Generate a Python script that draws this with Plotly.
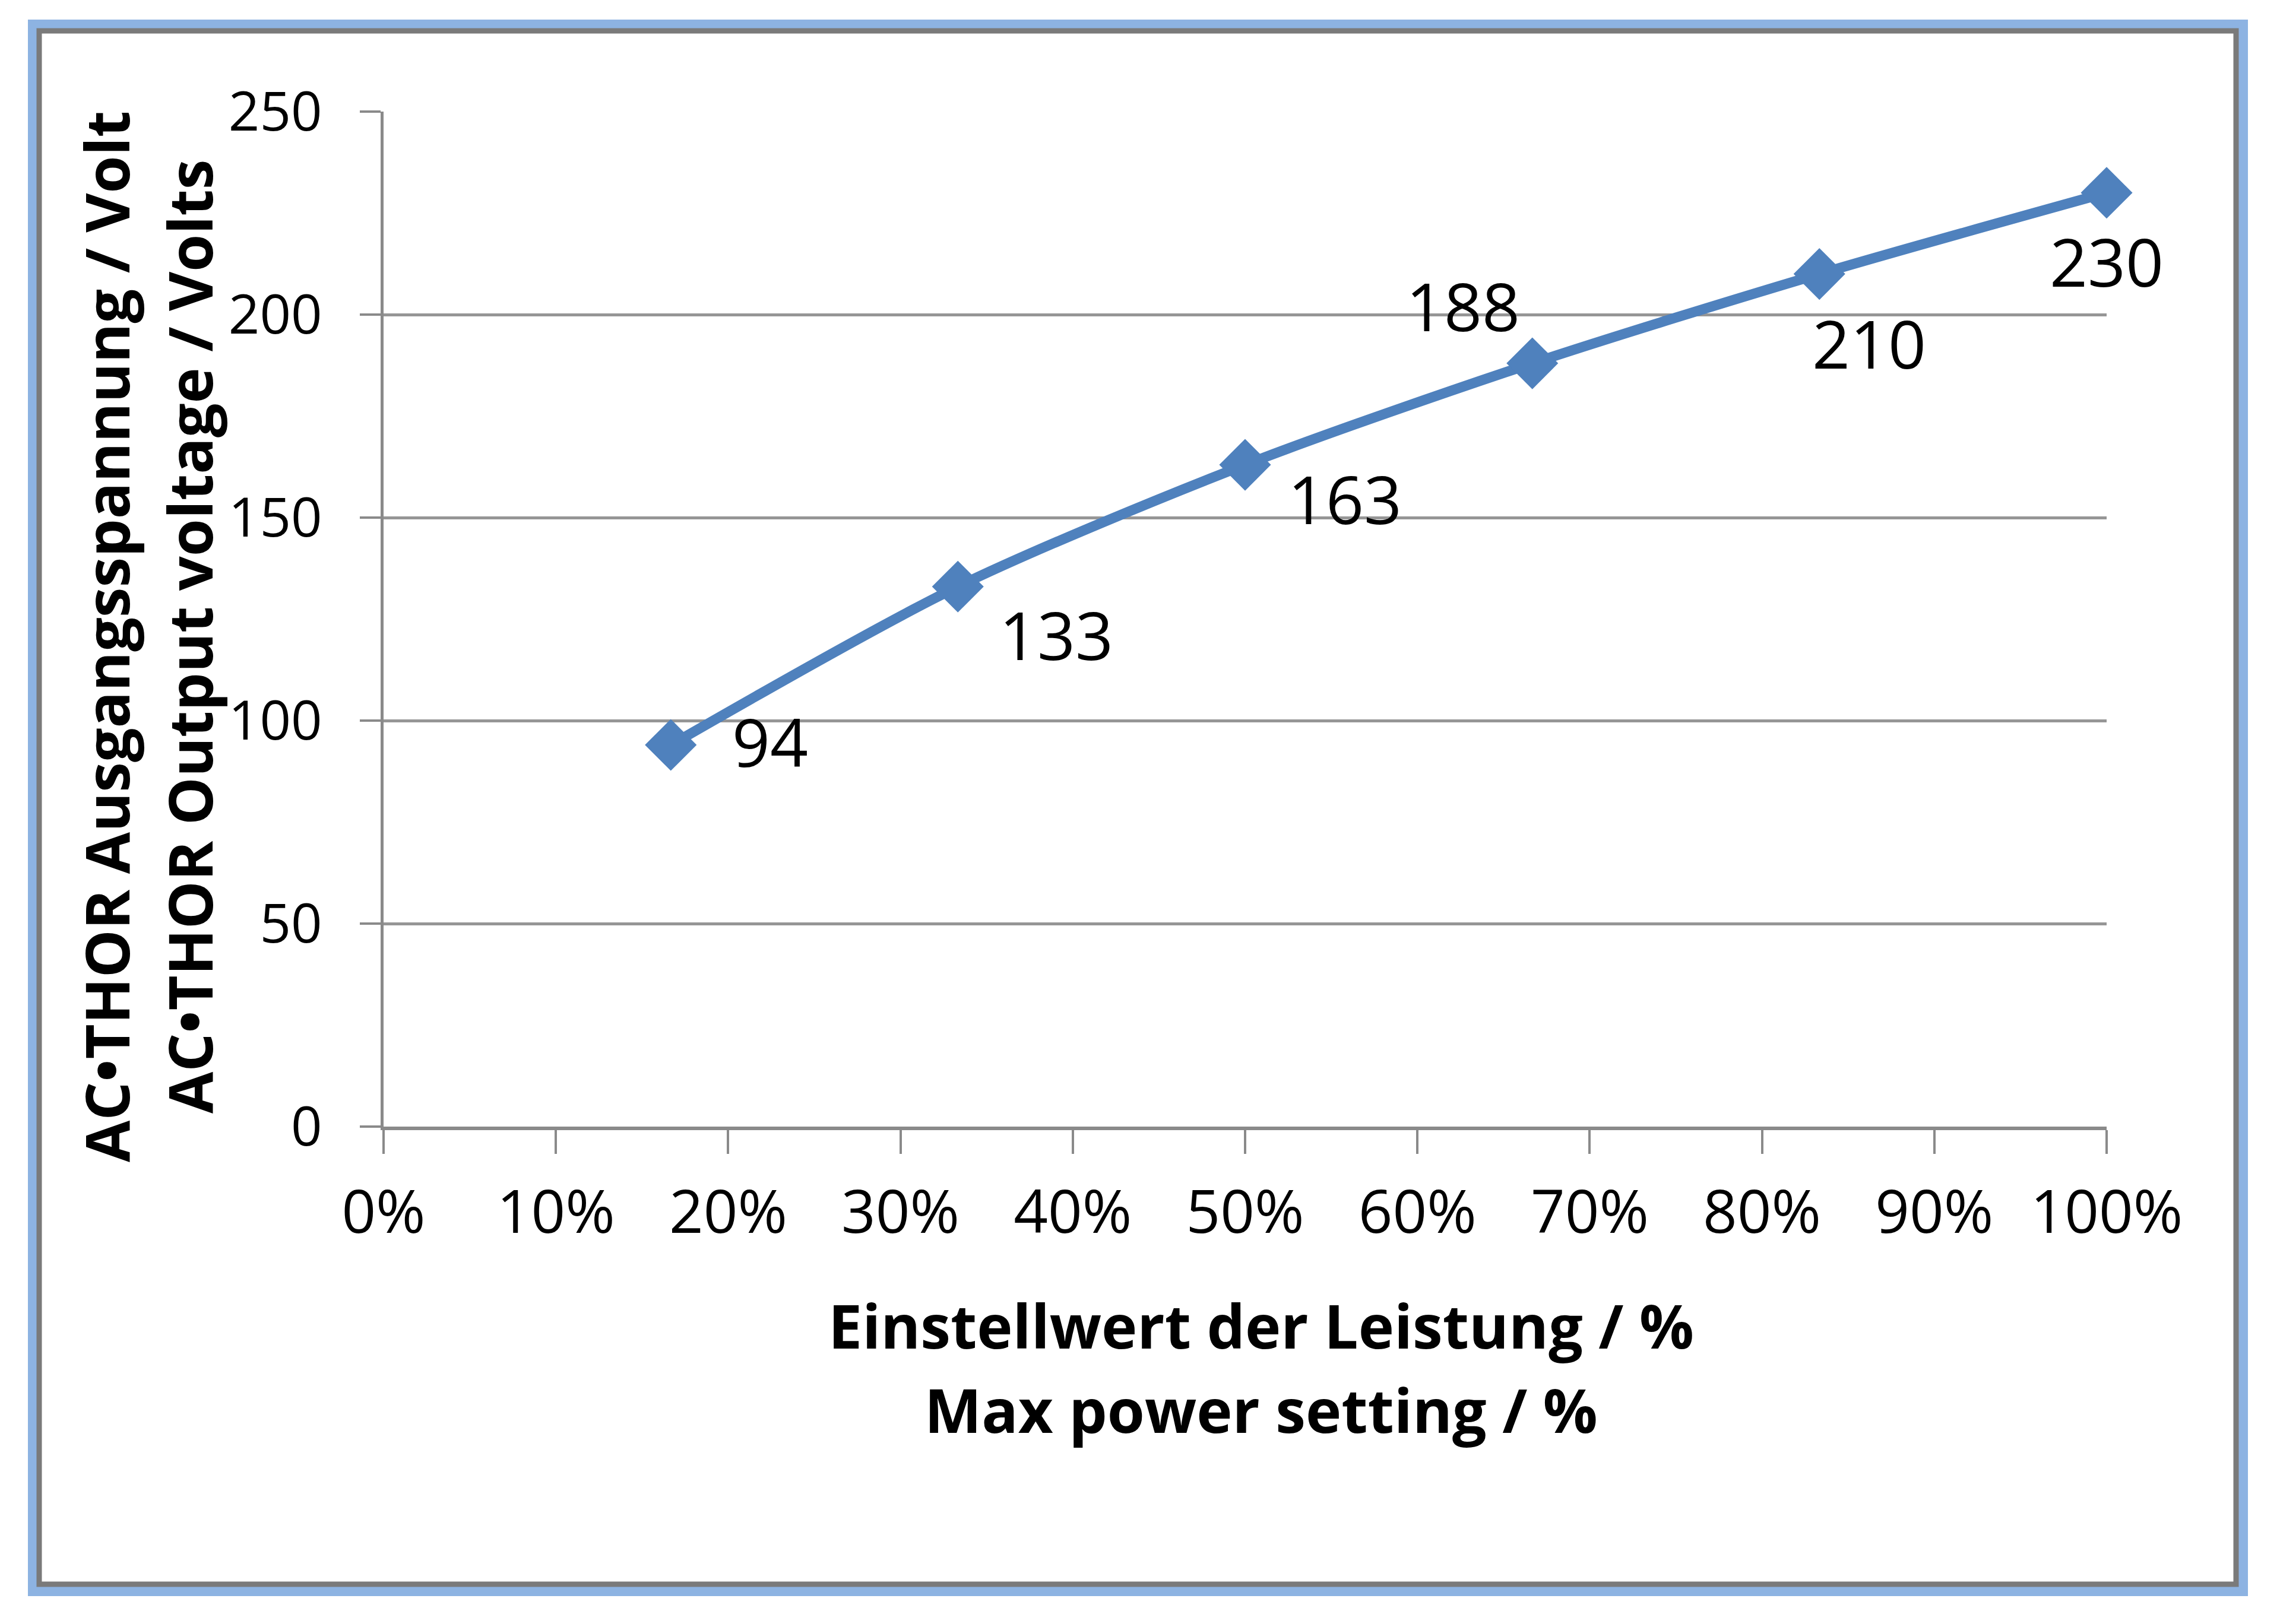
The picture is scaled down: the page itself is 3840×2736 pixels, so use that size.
import plotly.graph_objects as go

# ---- data ----
power_setting = [0.1667, 0.3333, 0.5, 0.6667, 0.8333, 1.0]   # fraction of max power
output_voltage = [94, 133, 163, 188, 210, 230]                # volts
x_ticks = [0, 0.1, 0.2, 0.3, 0.4, 0.5, 0.6, 0.7, 0.8, 0.9, 1.0]
y_ticks = [0, 50, 100, 150, 200, 250]

x_title_lines = ["Einstellwert der Leistung / %", "Max power setting / %"]
y_title_lines = ["AC•THOR Ausgangsspannung / Volt", "AC•THOR Output voltage / Volts"]

# ---- style / layout (pixels on a 3840x2736 canvas) ----
W, H = 3840, 2736
OFF = 8  # page body margin compensation
label_offsets = [(167, 7), (166, -80), (168, -56), (-117, 98), (84, -116), (0, -115)]
BLUE = "#4F81BD"
FONT = "Open Sans"

def px(x):
    return (x - OFF) / W

def py(y):
    return 1 - (y - OFF) / H

fig = go.Figure()
fig.add_trace(go.Scatter(
    x=power_setting, y=output_voltage,
    mode="lines+markers",
    line=dict(color=BLUE, width=17, shape="spline", smoothing=0.8),
    marker=dict(symbol="diamond", size=67, color=BLUE, line=dict(width=0)),
    cliponaxis=False, showlegend=False, hoverinfo="skip",
))

annotations = []
for xv, yv, (dx, dy) in zip(power_setting, output_voltage, label_offsets):
    annotations.append(dict(
        x=xv, y=yv, xref="x", yref="y", text=str(yv), showarrow=False,
        xshift=dx, yshift=dy, font=dict(family=FONT, size=112, color="#000000"),
    ))

# axis titles
x_title_y = [2232, 2374]
for line, yy in zip(x_title_lines, x_title_y):
    annotations.append(dict(
        x=px(2124), y=py(yy), xref="paper", yref="paper", text="<b>%s</b>" % line,
        showarrow=False, xanchor="center", yanchor="middle",
        font=dict(family=FONT, size=102, color="#000000"),
    ))
y_title_x = [178, 318]
for line, xx in zip(y_title_lines, y_title_x):
    annotations.append(dict(
        x=px(xx), y=py(1073), xref="paper", yref="paper", text="<b>%s</b>" % line,
        showarrow=False, xanchor="center", yanchor="middle", textangle=-90,
        font=dict(family=FONT, size=102, color="#000000"),
    ))

shapes = [
    dict(type="rect", xref="paper", yref="paper",
         x0=px(55), x1=px(3778), y0=py(41), y1=py(2681),
         line=dict(color="#8DB3E2", width=16), fillcolor="rgba(0,0,0,0)", layer="above"),
    dict(type="rect", xref="paper", yref="paper",
         x0=px(66), x1=px(3766), y0=py(52), y1=py(2669),
         line=dict(color="#7A7A7A", width=9), fillcolor="rgba(0,0,0,0)", layer="above"),
]

fig.update_layout(
    width=W, height=H,
    margin=dict(l=0, r=0, t=0, b=0, autoexpand=False),
    paper_bgcolor="white", plot_bgcolor="white",
    font=dict(family=FONT, color="#000000"),
    annotations=annotations, shapes=shapes,
    xaxis=dict(
        domain=[px(646), px(3548)], range=[0, 1], automargin=False,
        tickvals=x_ticks, tickformat=".0%",
        showgrid=False, zeroline=False,
        showline=True, linecolor="#8A8A8A", linewidth=6,
        ticks="outside", ticklen=40, tickwidth=4, tickcolor="#8A8A8A",
        tickfont=dict(family=FONT, size=101, color="#000000"),
        ticklabelstandoff=12,
    ),
    yaxis=dict(
        domain=[py(1898), py(188)], range=[0, 250], automargin=False,
        tickvals=y_ticks,
        showgrid=True, gridcolor="#969696", gridwidth=5, zeroline=False,
        showline=True, linecolor="#8A8A8A", linewidth=5,
        ticks="outside", ticklen=35, tickwidth=4, tickcolor="#8A8A8A",
        tickfont=dict(family=FONT, size=92, color="#000000"),
        ticklabelstandoff=45,
    ),
)

fig.write_html("out.html")
